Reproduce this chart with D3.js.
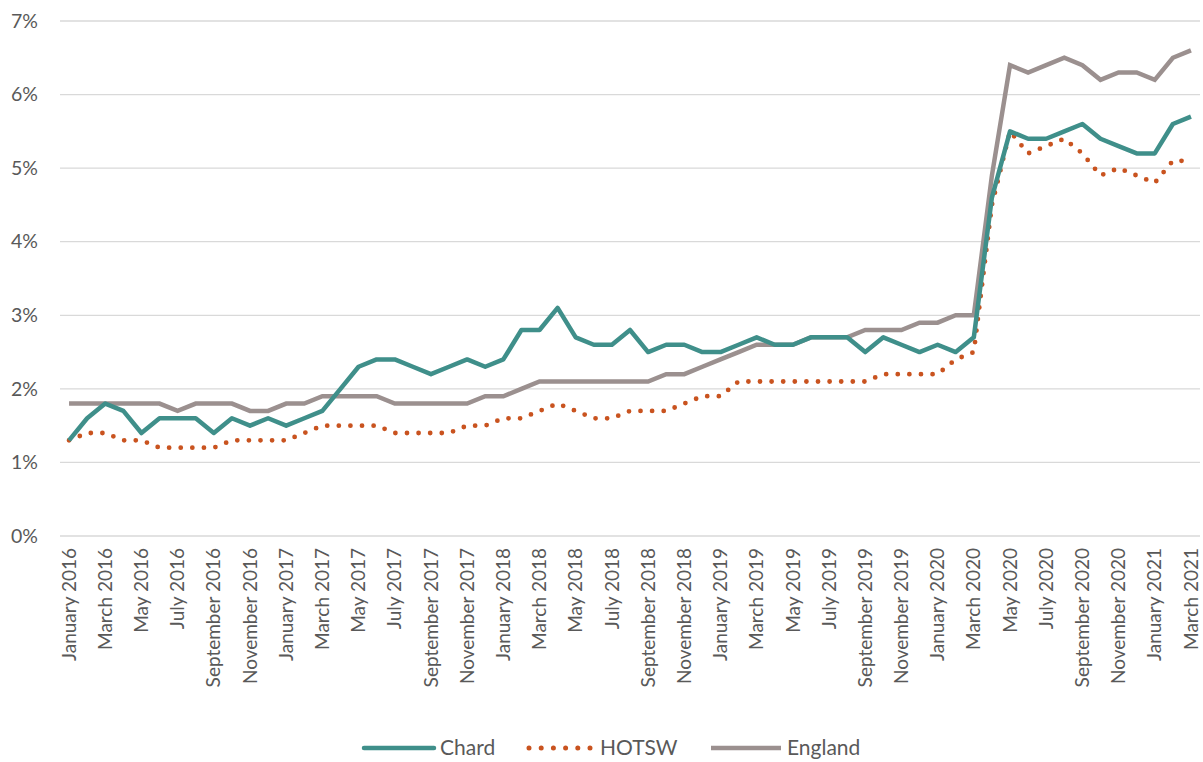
<!DOCTYPE html>
<html><head><meta charset="utf-8">
<script src="https://cdn.jsdelivr.net/npm/d3@7"></script>
<style>
html,body{margin:0;padding:0;background:#fff;}
svg{display:block;font-family:Lato,"Open Sans",sans-serif;}
</style></head>
<body>
<svg id="chart" width="1203" height="762"></svg>
<script>
const monthNames = ["January","February","March","April","May","June","July","August","September","October","November","December"];
const years = [2016,2017,2018,2019,2020,2021];
const months = [];
years.forEach(y => monthNames.forEach(m => months.push(m + " " + y)));
months.length = 63;

const chard = [1.3,1.6,1.8,1.7,1.4,1.6,1.6,1.6,1.4,1.6,1.5,1.6,
               1.5,1.6,1.7,2.0,2.3,2.4,2.4,2.3,2.2,2.3,2.4,2.3,
               2.4,2.8,2.8,3.1,2.7,2.6,2.6,2.8,2.5,2.6,2.6,2.5,
               2.5,2.6,2.7,2.6,2.6,2.7,2.7,2.7,2.5,2.7,2.6,2.5,
               2.6,2.5,2.7,4.6,5.5,5.4,5.4,5.5,5.6,5.4,5.3,5.2,
               5.2,5.6,5.7];
const hotsw = [1.3,1.4,1.4,1.3,1.3,1.2,1.2,1.2,1.2,1.3,1.3,1.3,
               1.3,1.4,1.5,1.5,1.5,1.5,1.4,1.4,1.4,1.4,1.5,1.5,
               1.6,1.6,1.7,1.8,1.7,1.6,1.6,1.7,1.7,1.7,1.8,1.9,
               1.9,2.1,2.1,2.1,2.1,2.1,2.1,2.1,2.1,2.2,2.2,2.2,
               2.2,2.4,2.5,4.5,5.5,5.2,5.3,5.4,5.2,4.9,5.0,4.9,
               4.8,5.1,5.1];
const england = [1.8,1.8,1.8,1.8,1.8,1.8,1.7,1.8,1.8,1.8,1.7,1.7,
                 1.8,1.8,1.9,1.9,1.9,1.9,1.8,1.8,1.8,1.8,1.8,1.9,
                 1.9,2.0,2.1,2.1,2.1,2.1,2.1,2.1,2.1,2.2,2.2,2.3,
                 2.4,2.5,2.6,2.6,2.6,2.7,2.7,2.7,2.8,2.8,2.8,2.9,
                 2.9,3.0,3.0,4.9,6.4,6.3,6.4,6.5,6.4,6.2,6.3,6.3,
                 6.2,6.5,6.6];
const yTicks = [0,1,2,3,4,5,6,7];
const seriesNames = ["Chard","HOTSW","England"];

const svg = d3.select("#chart");
const x = d3.scaleBand().domain(months).range([60, 1200]).padding(0);
const y = d3.scaleLinear().domain([0, 7]).range([536, 21]);
const cx = d => x(d) + x.bandwidth() / 2;

// gridlines
svg.append("g").selectAll("line").data(yTicks).join("line")
  .attr("x1", 60).attr("x2", 1200)
  .attr("y1", d => y(d)).attr("y2", d => y(d))
  .attr("stroke", "#d9d9d9").attr("stroke-width", 1.3);

// y axis labels
const yAxis = d3.axisLeft(y).tickValues(yTicks).tickFormat(d => d + "%").tickSize(0).tickPadding(0);
const gy = svg.append("g").attr("transform", "translate(38,0)").call(yAxis);
gy.select(".domain").remove();
gy.selectAll("text").attr("fill", "#595959").style("font-size", "19.5px").style("font-family", "Lato,'Open Sans',sans-serif");

// x axis labels
const xAxis = d3.axisBottom(x).tickValues(months.filter((m, i) => i % 2 === 0)).tickSize(0).tickPadding(0);
const gx = svg.append("g").attr("transform", "translate(0,548)").call(xAxis);
gx.select(".domain").remove();
gx.selectAll("text")
  .attr("fill", "#595959").style("font-size", "19px").style("font-family", "Lato,'Open Sans',sans-serif")
  .attr("text-anchor", "end").attr("transform", "rotate(-90)")
  .attr("x", 0).attr("y", 0).attr("dx", 0).attr("dy", "0.35em");

const line = d3.line().x((d, i) => cx(months[i])).y(d => y(d));

const colors = {Chard: "#3f8f8a", HOTSW: "#c9531f", England: "#9b908f"};

svg.append("path").datum(england).attr("d", line)
  .attr("fill", "none").attr("stroke", colors.England).attr("stroke-width", 4.5).attr("stroke-linejoin", "miter");
svg.append("path").datum(hotsw).attr("d", line)
  .attr("fill", "none").attr("stroke", colors.HOTSW).attr("stroke-width", 4.8)
  .attr("stroke-linecap", "round").attr("stroke-dasharray", "0,11.6");
svg.append("path").datum(chard).attr("d", line)
  .attr("fill", "none").attr("stroke", colors.Chard).attr("stroke-width", 4.5).attr("stroke-linejoin", "round");

// legend
const legend = svg.append("g");
const legItems = [
  {name: "Chard", x1: 364, x2: 434, tx: 440},
  {name: "HOTSW", x1: 529, x2: 595, tx: 600},
  {name: "England", x1: 711, x2: 781, tx: 787}
];
const ly = 748;
legItems.forEach(it => {
  const l = legend.append("line").attr("x1", it.x1).attr("x2", it.x2).attr("y1", ly).attr("y2", ly)
    .attr("stroke", colors[it.name]).attr("stroke-width", 4.5);
  if (it.name === "HOTSW") l.attr("stroke-linecap", "round").attr("stroke-dasharray", "0,12.2").attr("stroke-width", 5);
  else if (it.name === "Chard") l.attr("stroke-linecap", "round");
  legend.append("text").attr("x", it.tx).attr("y", ly).attr("dy", "0.33em")
    .attr("fill", "#595959").style("font-size", "21px").text(it.name);
});
</script>
</body></html>
